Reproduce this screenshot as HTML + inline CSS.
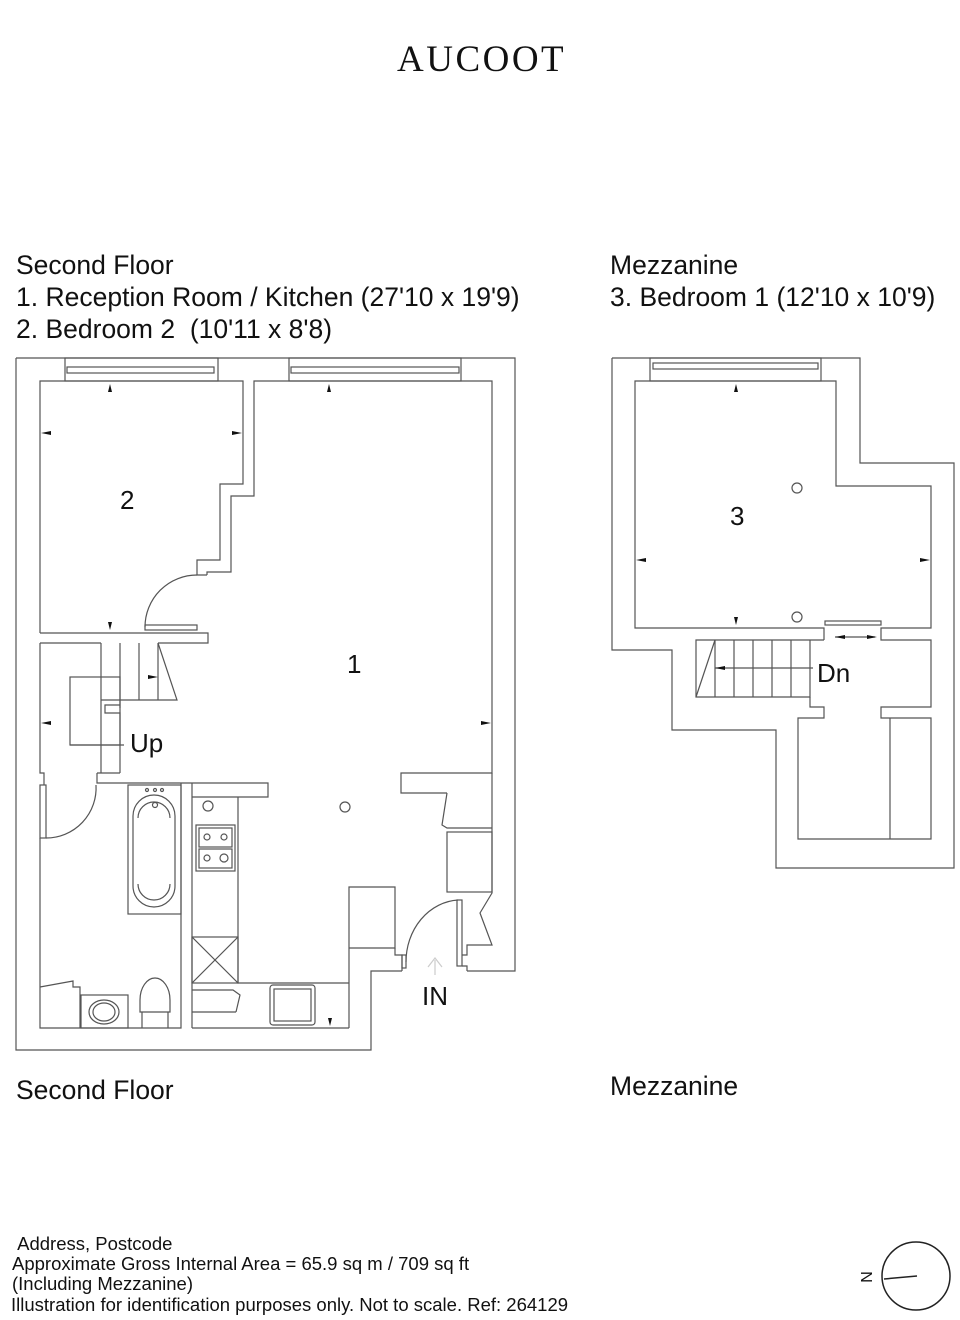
<!DOCTYPE html>
<html><head><meta charset="utf-8"><style>
html,body{margin:0;padding:0;background:#fff}
body{width:960px;height:1320px;position:relative;overflow:hidden;font-family:"Liberation Sans",sans-serif;color:#111}
.t{position:absolute;white-space:nowrap}
</style></head><body>
<div class="t" style="left:397px;top:38px;font-family:'Liberation Serif',serif;font-size:37px;letter-spacing:2.5px">AUCOOT</div>
<div class="t" style="left:16px;top:249px;font-size:26.5px;line-height:32px">Second Floor<br>1. Reception Room / Kitchen (27'10 x 19'9)<br>2. Bedroom 2&nbsp; (10'11 x 8'8)</div>
<div class="t" style="left:610px;top:249px;font-size:26.5px;line-height:32px">Mezzanine<br>3. Bedroom 1 (12'10 x 10'9)</div>
<div class="t" style="left:16px;top:1075px;font-size:26.5px">Second Floor</div>
<div class="t" style="left:610px;top:1071px;font-size:26.5px">Mezzanine</div>
<div class="t" style="left:12px;top:1234px;font-size:18.5px;line-height:20px">&nbsp;Address, Postcode<br>Approximate Gross Internal Area = 65.9 sq m / 709 sq ft<br>(Including Mezzanine)</div>
<div class="t" style="left:11px;top:1294px;font-size:18.5px">Illustration for identification purposes only. Not to scale. Ref: 264129</div>

<svg width="960" height="1320" style="position:absolute;left:0;top:0" fill="none" stroke="#555" stroke-width="1.2">
<polyline points="16,358 515,358 515,971 467,971"/>
<polyline points="16,358 16,1050 371,1050 371,971 402,971"/>
<rect x="65" y="358" width="153" height="23"/><rect x="67" y="367" width="147" height="6"/>
<rect x="289" y="358" width="172" height="23"/><rect x="291" y="367" width="168" height="6"/>
<polyline points="40,633 40,381 243,381 243,484 220,484 220,560 197,560 197,575 207,575"/>
<polyline points="40,633 208,633 208,643 158,643"/>
<path d="M197,575 A52,52 0 0 0 145,627"/>
<rect x="145" y="625" width="52" height="5"/>
<polyline points="207,575 207,572 231,572 231,496 254,496 254,381 492,381 492,773 401,773 401,793 447,793"/>
<polyline points="40,643 101,643"/>
<line x1="101" y1="643" x2="101" y2="773"/><line x1="120" y1="643" x2="120" y2="708"/><line x1="139" y1="643" x2="139" y2="700"/><line x1="158" y1="643" x2="158" y2="700"/>
<polyline points="101,700 177,700 158,643"/>
<polyline points="120,773 120,713 105,713 105,705 120,705"/>
<rect x="70" y="677" width="50" height="68"/>
<line x1="70" y1="745" x2="124" y2="745"/>
<polyline points="40,643 40,773 44,773 44,785"/>
<polyline points="97,773 97,783 268,783 268,797 192,797"/>
<line x1="97" y1="773" x2="120" y2="773"/>
<rect x="40" y="785" width="6" height="53"/>
<path d="M46,838 A50,50 0 0 0 96,785"/>
<polyline points="40,838 40,1028 181,1028 181,783"/>
<rect x="128" y="785" width="53" height="129"/>
<rect x="133" y="795" width="42" height="112" rx="21"/>
<path d="M138,818 A16,16 0 0 1 170,818 M138,884 A16,16 0 0 0 170,884"/>
<circle cx="155" cy="805" r="2.5"/><circle cx="147" cy="790" r="1.5"/><circle cx="155" cy="790" r="1.5"/><circle cx="162" cy="790" r="1.5"/>
<polyline points="40,987 73,981 73,987 80,987 80,1028"/>
<rect x="81" y="995" width="47" height="33"/><ellipse cx="104" cy="1012" rx="15" ry="12"/><ellipse cx="104" cy="1012" rx="11" ry="9"/>
<path d="M142,1028 L142,1012 L168,1012 L168,1028 M140,1000 A15,22 0 0 1 170,1000 L170,1012 L140,1012 Z"/>
<polyline points="192,783 192,1028 192,1028"/>
<line x1="192" y1="1028" x2="349" y2="1028"/>
<polyline points="238,797 238,983 349,983"/>
<rect x="196" y="825" width="39" height="46"/><rect x="199" y="828" width="33" height="19"/><rect x="199" y="849" width="33" height="19"/>
<circle cx="207" cy="837" r="3"/><circle cx="224" cy="837" r="3"/><circle cx="207" cy="858" r="3"/><circle cx="224" cy="858" r="4"/>
<rect x="192" y="937" width="46" height="46"/><line x1="192" y1="937" x2="238" y2="983"/><line x1="238" y1="937" x2="192" y2="983"/>
<polyline points="192,990 233,990 240,995 236,1012"/><line x1="192" y1="1012" x2="236" y2="1012"/>
<rect x="270" y="985" width="45" height="40" rx="3"/><rect x="274" y="989" width="37" height="32"/>
<circle cx="208" cy="806" r="5"/><circle cx="345" cy="807" r="5"/>
<polyline points="349,1028 349,887 395,887 395,948 349,948"/>
<polyline points="395,948 395,955 402,955 402,971"/>
<rect x="402" y="955" width="4" height="13"/>
<path d="M406,962 A55,62 0 0 1 458,900"/>
<rect x="457" y="900" width="5" height="66"/>
<polyline points="462,966 467,966 467,971"/>
<polyline points="492,773 492,893 480,913 492,945 467,945 467,955 462,955"/>
<polyline points="447,793 442,825 447,828 492,828"/>
<rect x="447" y="832" width="45" height="60"/>
<path d="M435,975 L435,960 M428,967 L435,958 L442,967" stroke="#ccc"/>
<polyline points="612,358 860,358 860,463 954,463 954,868 776,868 776,730 672,730 672,650 612,650 612,358"/>
<rect x="650" y="358" width="171" height="23"/><rect x="653" y="363" width="165" height="6"/>
<polyline points="824,640 824,628 635,628 635,381 836,381 836,486 931,486 931,628 881,628 881,640 931,640 931,707 881,707 881,718 931,718 931,839 798,839 798,718 824,718 824,707 810,707 810,697"/>
<line x1="890" y1="718" x2="890" y2="839"/>
<rect x="825" y="621" width="56" height="4"/>
<polyline points="824,640 696,640 696,697 810,697 810,640"/>
<line x1="715" y1="640" x2="715" y2="697"/><line x1="734" y1="640" x2="734" y2="697"/><line x1="753" y1="640" x2="753" y2="697"/><line x1="772" y1="640" x2="772" y2="697"/><line x1="791" y1="640" x2="791" y2="697"/>
<line x1="715" y1="640" x2="696" y2="697"/>
<line x1="715" y1="668" x2="813" y2="668"/>
<line x1="835" y1="637" x2="875" y2="637"/>
<circle cx="797" cy="488" r="5"/><circle cx="797" cy="617" r="5"/>
<circle cx="916" cy="1276" r="34" stroke="#222" stroke-width="1.5"/>
<line x1="884" y1="1279" x2="917" y2="1276" stroke="#222" stroke-width="1.5"/>
</svg>
<svg width="960" height="1320" style="position:absolute;left:0;top:0" fill="#111" stroke="none">
<polygon points="110,384 108,392 112,392"/><polygon points="329,384 327,392 331,392"/><polygon points="736,384 734,392 738,392"/>
<polygon points="110,630 108,622 112,622"/><polygon points="736,625 734,617 738,617"/><polygon points="330,1026 328,1018 332,1018"/>
<polygon points="41,433 51,431 51,435"/><polygon points="242,433 232,431 232,435"/>
<polygon points="41,723 51,721 51,725"/><polygon points="491,723 481,721 481,725"/>
<polygon points="636,560 646,558 646,562"/><polygon points="930,560 920,558 920,562"/>
<polygon points="158,677 148,675 148,679"/><polygon points="715,668 725,666 725,670"/>
<polygon points="835,637 845,635 845,639"/><polygon points="877,637 867,635 867,639"/>
</svg>
<div class="t" style="left:120px;top:485px;font-size:26px">2</div>
<div class="t" style="left:347px;top:649px;font-size:26px">1</div>
<div class="t" style="left:730px;top:501px;font-size:26px">3</div>
<div class="t" style="left:130px;top:728px;font-size:26px">Up</div>
<div class="t" style="left:817px;top:658px;font-size:26px">Dn</div>
<div class="t" style="left:422px;top:981px;font-size:26px">IN</div>
<div class="t" style="left:862px;top:1268px;font-size:16px;transform:rotate(-90deg)">N</div>
</body></html>
